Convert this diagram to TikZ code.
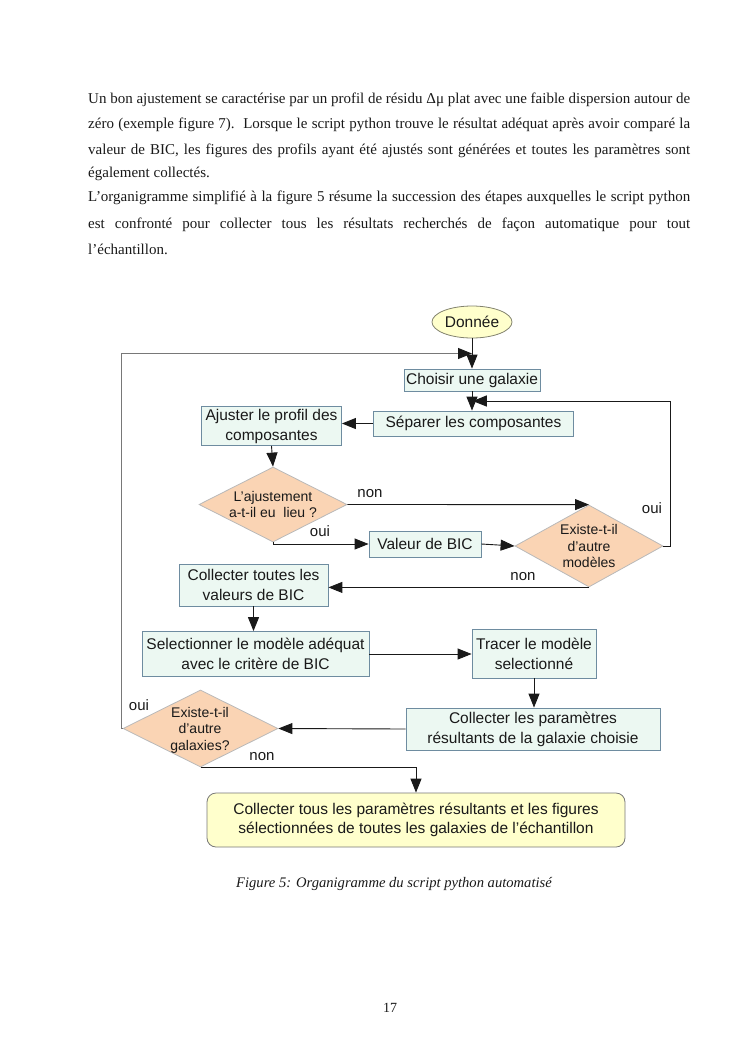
\documentclass[tikz,border=0pt]{standalone}
\usepackage{fontspec}
\setmainfont{Liberation Serif}
\setsansfont{Liberation Sans}
\usetikzlibrary{shapes.geometric,arrows.meta,calc}
\definecolor{boxfill}{RGB}{236,248,242}
\definecolor{boxborder}{RGB}{110,140,160}
\definecolor{yel}{RGB}{255,255,204}
\definecolor{ellborder}{RGB}{130,130,110}
\definecolor{decfill}{RGB}{250,212,180}
\definecolor{decborder}{RGB}{185,185,185}
\definecolor{conn}{RGB}{25,25,25}
\definecolor{loopgray}{RGB}{120,120,120}
\definecolor{txt}{RGB}{25,25,25}
\tikzset{
  proc/.style={draw=boxborder, fill=boxfill, line width=0.8pt, inner sep=0pt, align=center,
    font=\sffamily\fontsize{15.5}{20}\selectfont, text=txt},
  dec/.style={diamond, draw=decborder, fill=decfill, inner sep=0pt, line width=0.8pt},
  dectext/.style={align=center, font=\sffamily\fontsize{14}{16.5}\selectfont, text=txt},
  lab/.style={font=\sffamily\fontsize{15}{18}\selectfont, text=txt},
  arr/.style={draw=conn, line width=0.9pt, -{Triangle[length=14pt,width=11pt]}},
  bodyline/.style={anchor=base west, inner sep=0pt, font=\fontsize{15}{18}\selectfont, text=txt},
}
\newcommand{\jl}[1]{\makebox[602pt][s]{#1}}
\begin{document}
\begin{tikzpicture}[x=1pt,y=-1pt]
\useasboundingbox (0,0) rectangle (745,1053);
% body text
\node[bodyline] (t1) at (88,103) {\jl{Un bon ajustement se caractérise par un profil de résidu Δμ plat avec une faible dispersion autour de}};
\node[bodyline] (t2) at (88,128.5) {\jl{zéro (exemple figure 7).\ \ Lorsque le script python trouve le résultat adéquat après avoir comparé la}};
\node[bodyline] (t3) at (88,154) {\jl{valeur de BIC, les figures des profils ayant été ajustés sont générées et toutes les paramètres sont}};
\node[bodyline] (t4) at (88,177.5) {également collectés.};
\node[bodyline] (t5) at (88,201) {\jl{L'organigramme simplifié à la figure 5 résume la succession des étapes auxquelles le script python}};
\node[bodyline] (t6) at (88,228.5) {\jl{est confronté pour collecter tous les résultats recherchés de façon automatique pour tout}};
\node[bodyline] (t7) at (88,254) {l’échantillon.};

% flowchart nodes
\node[ellipse, draw=ellborder, fill=yel, line width=0.8pt, minimum width=80pt, minimum height=32pt, inner sep=0pt,
  font=\sffamily\fontsize{15.5}{20}\selectfont, text=txt] (don) at (472,322) {Donnée};
\node[proc, minimum width=136pt, minimum height=22pt] (cho) at (472,380) {Choisir une galaxie};
\node[proc, minimum width=200pt, minimum height=25pt] (sep) at (473.5,423.5) {Séparer les composantes};
\node[proc, minimum width=140pt, minimum height=39pt] (aju) at (271.5,426) {Ajuster le profil des\\composantes};
\node[dec, minimum width=148pt, minimum height=75pt] (d1) at (273,504.5) {};
\node[dectext] (d1t) at (d1) {L’ajustement\\a-t-il eu\ \ lieu ?};
\node[proc, minimum width=112pt, minimum height=26pt] (val) at (425,544) {Valeur de BIC};
\node[dec, minimum width=148pt, minimum height=82pt] (d2) at (589,546) {};
\node[dectext] (d2t) at (d2) {Existe-t-il\\d’autre\\modèles};
\node[proc, minimum width=149pt, minimum height=42pt] (col) at (253.5,585) {Collecter toutes les\\valeurs de BIC};
\node[proc, minimum width=227pt, minimum height=45pt] (sel) at (255.5,654) {Selectionner le modèle adéquat\\avec le critère de BIC};
\node[proc, minimum width=124pt, minimum height=49pt] (tra) at (534,653.5) {Tracer le modèle\\selectionné};
\node[proc, minimum width=254pt, minimum height=42pt] (cp) at (533,729) {Collecter les paramètres\\résultants de la galaxie choisie};
\node[dec, minimum width=155pt, minimum height=77pt] (d3) at (200.5,728.5) {};
\node[dectext] (d3t) at (200,730) {Existe-t-il\\d’autre\\galaxies?};
\node[draw=loopgray, fill=yel, line width=0.8pt, rounded corners=9pt, minimum width=418pt, minimum height=54pt,
  inner sep=0pt, align=center, font=\sffamily\fontsize{15.5}{19}\selectfont, text=txt] (fin) at (416,820)
  {Collecter tous les paramètres résultants et les figures\\sélectionnées de toutes les galaxies de l’échantillon};

% connectors
\draw[arr] (don.south) -- (cho.north);
\draw[arr, draw=loopgray, -{Triangle[length=14pt,width=11pt,color=conn]}] (d3.west) -- ++(-1.5,0) |- ($(don.south)!0.5!(cho.north)$);
\draw[arr] (cho.south) -- (cho.south |- sep.north);
\draw[arr] (d2.east) -- ++(7,0) |- ($(cho.south)!0.5!(sep.north)$);
\draw[arr] (sep.west) -- (sep.west -| aju.east);
\draw[arr] (aju.south) -- (d1.north);
\draw[arr] (d1.east) -- (d2.north);
\draw[arr] (d1.south) |- (val.west);
\draw[arr] (val.east) -- (d2.west);
\draw[arr] (d2.south) -- (col.east |- d2.south);
\draw[arr] (col.south) -- (col.south |- sel.north);
\draw[arr] (sel.east) -- (sel.east -| tra.west);
\draw[arr] (tra.south) -- (tra.south |- cp.north);
\draw[arr] (cp.west) -- (d3.east);
\draw[arr] (d3.south) -| (fin.north);

% labels
\node[lab] (l1) at (370,494) {non};
\node[lab] (l2) at (320,531) {oui};
\node[lab] (l3) at (652,508) {oui};
\node[lab] (l4) at (523,577) {non};
\node[lab] (l5) at (139,705) {oui};
\node[lab] (l6) at (262,757) {non};

% caption and page number
\node[font=\itshape\fontsize{14.6}{17}\selectfont, text=txt] (cap) at (394,884) {Figure 5: Organigramme du script python automatisé};
\node[font=\fontsize{14}{17}\selectfont, text=txt] (pg) at (390,1008) {17};
\end{tikzpicture}
\end{document}
